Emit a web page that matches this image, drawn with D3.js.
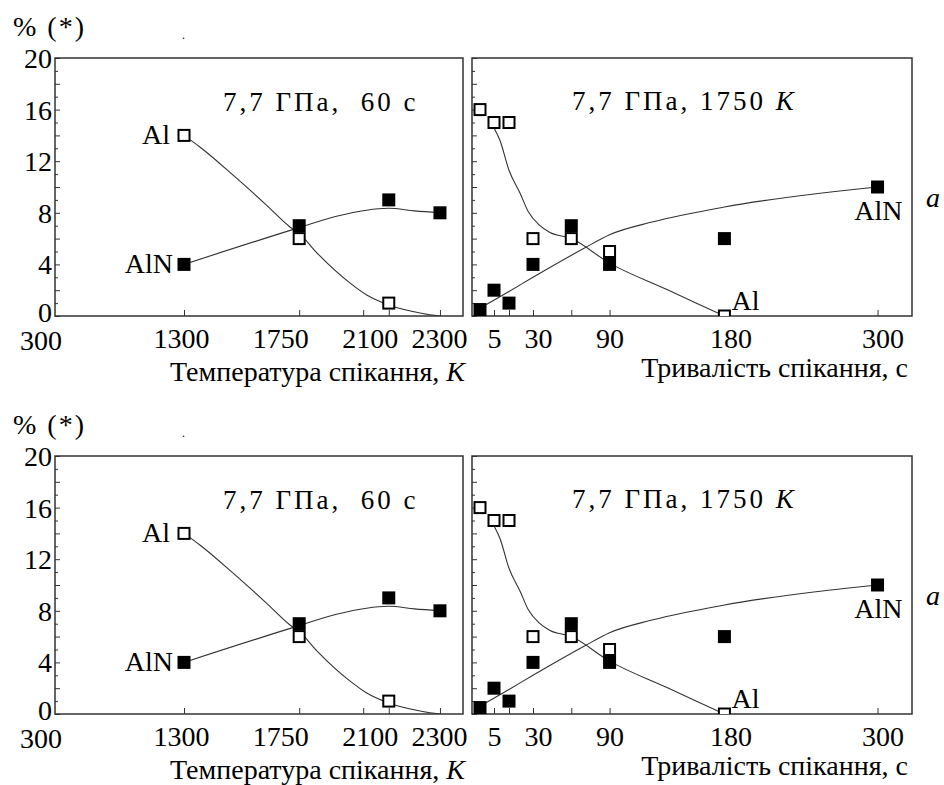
<!DOCTYPE html>
<html><head><meta charset="utf-8">
<script src="https://cdn.jsdelivr.net/npm/d3@7"></script></head>
<body style="margin:0">
<script>
// Left panel: sintering temperature, K
const tempK = [1300, 1750, 2100, 2300];
const tempAl = [14, 6, 1, null];
const tempAlN = [4, 7, 9, 8];
const tempAlFitK = [1300, 1362, 1493, 1622, 1714, 1750, 1819, 1949, 2014, 2100, 2232, 2300];
const tempAlFitV = [14, 13.1, 10.9, 8.6, 6.9, 6.4, 4.9, 2.55, 1.63, 0.85, 0.2, 0];
const tempAlNFitK = [1300, 1750, 1900, 2100, 2200, 2300];
const tempAlNFitV = [4, 6.85, 7.75, 8.35, 8.15, 8.0];
const tempTicks = [1300, 1750, 2000, 2100, 2300];
const tempTickLabels = { 1300: '1300', 1750: '1750', 2100: '2100', 2300: '2300' };

// Right panel: sintering time, s
const timeS = [1, 5, 15, 30, 60, 90, 180, 300];
const timeAl = [16, 15, 15, 6, 6, 5, 0, null];
const timeAlN = [0.5, 2, 1, 4, 7, 4, 6, 10];
const timeAlFitS = [5, 9, 15, 22, 27, 35, 43, 60, 90, 135, 180];
const timeAlFitV = [14.6, 13.6, 11.3, 9.5, 8.1, 7.05, 6.5, 6.0, 4.1, 2.05, 0];
const timeAlNFitS = [1, 15, 30, 70, 90, 124, 180, 300];
const timeAlNFitV = [0.6, 1.9, 3.0, 5.25, 6.3, 7.3, 8.45, 10.0];
const timeTicks = [1, 5, 15, 30, 60, 90, 180, 300];
const timeTickLabels = { 5: '5', 30: '30', 90: '90', 180: '180', 300: '300' };

// y axis
const yTicks = d3.range(0, 21);
const yLabels = [0, 4, 8, 12, 16, 20];

// layout
const W = 944, H = 785;
const plotTop = 58, panelH = 258;
const leftP = { x: 55, w: 408 };
const rightP = { x: 472, w: 440 };
const halfShift = 398;
const fs = 28;
const fam = 'Times New Roman';
const lineColor = '#333';

const svg = d3.select('body').append('svg')
    .attr('width', W)
    .attr('height', H);
svg.append('rect').attr('width', W).attr('height', H).attr('fill', '#fff');

const y = d3.scaleLinear().domain([0, 20]).range([panelH, 0]);
const xTemp = d3.scaleLinear().domain([796, 2390]).range([0, leftP.w]);
const xTime = d3.scaleLinear().domain([0, 1, 5, 15, 30, 327]).range([0, 8, 22, 37, 61, rightP.w]);

const lineGen = x => d3.line().x(d => x(d[0])).y(d => y(d[1])).curve(d3.curveMonotoneX);

// text helper: serif like the original print
function label(g, x, yy, str, size) {
    return g.append('text')
        .attr('x', x).attr('y', yy)
        .attr('font-size', size || fs)
        .style('font-family', `"${fam}"`)
        .text(str);
}

let clipId = 0;

function drawPanel(g, p, x, ticks, tickLabels, labelDx, pts, fits, showYLabels) {
    const pg = g.append('g').attr('transform', `translate(${p.x},${plotTop})`);
    const id = 'clip' + (clipId++);
    pg.append('clipPath').attr('id', id)
        .append('rect').attr('width', p.w).attr('height', panelH);

    // y axis ticks
    const ya = pg.append('g')
        .call(d3.axisLeft(y).tickValues(yTicks).tickSize(-5).tickPadding(3)
            .tickFormat(d => showYLabels && yLabels.includes(d) ? d : ''));
    ya.attr('font-family', null);
    ya.select('.domain').remove();
    ya.selectAll('line').attr('stroke', lineColor)
        .attr('x2', d => d % 2 === 0 ? 5 : 3);
    ya.selectAll('text').attr('font-size', fs)
        .style('font-family', `"${fam}"`)
        .attr('dy', d => d === 0 ? '0.2em' : '0.34em');

    // x axis ticks
    const xa = pg.append('g').attr('transform', `translate(0,${panelH})`)
        .call(d3.axisBottom(x).tickValues(ticks).tickSize(-6).tickPadding(12)
            .tickFormat(d => tickLabels[d] || ''));
    xa.attr('font-family', null);
    xa.select('.domain').remove();
    xa.selectAll('line').attr('stroke', lineColor);
    xa.selectAll('text').attr('font-size', fs)
        .style('font-family', `"${fam}"`)
        .attr('dx', d => labelDx[d] || 0);

    // frame
    pg.append('rect').attr('width', p.w).attr('height', panelH)
        .attr('fill', 'none').attr('stroke', lineColor).attr('stroke-width', 1.5);

    const inner = pg.append('g').attr('clip-path', `url(#${id})`);
    fits.forEach(f => {
        inner.append('path').datum(f)
            .attr('d', lineGen(x))
            .attr('fill', 'none')
            .attr('stroke', lineColor)
            .attr('stroke-width', 1.1);
    });

    // AlN (filled)
    inner.selectAll('.aln').data(pts.aln.filter(d => d[1] != null)).enter()
        .append('rect').attr('class', 'aln')
        .attr('x', d => x(d[0]) - 6.5).attr('y', d => y(d[1]) - 6.5)
        .attr('width', 13).attr('height', 13)
        .attr('fill', '#000');
    // Al (open)
    inner.selectAll('.al').data(pts.al.filter(d => d[1] != null)).enter()
        .append('rect').attr('class', 'al')
        .attr('x', d => x(d[0]) - 5.5).attr('y', d => y(d[1]) - 5.5)
        .attr('width', 11).attr('height', 11)
        .attr('fill', '#fff').attr('stroke', '#000').attr('stroke-width', 2);
    return pg;
}

function drawFigure(dy) {
    const g = svg.append('g').attr('transform', `translate(0,${dy})`);

    label(g, 13, 36, '% (*)').attr('letter-spacing', 2);
    label(g, 182, 39, '.', 12);

    // temperature panel
    const zip = (a, b) => a.map((v, i) => [v, b[i]]);
    const lp = drawPanel(g, leftP, xTemp, tempTicks, tempTickLabels, { 1300: -3, 1750: -19, 2100: -19, 2300: -1 },
        { al: zip(tempK, tempAl), aln: zip(tempK, tempAlN) },
        [zip(tempAlFitK, tempAlFitV), zip(tempAlNFitK, tempAlNFitV)], true);
    label(lp, -14, panelH + 34, '300').attr('text-anchor', 'middle');
    label(lp, 168, 53, '7,7 ГПа,  60 с', 27)
        .attr('letter-spacing', 3).style('white-space', 'pre');
    label(lp, xTemp(1300) - 14, y(14) + 9, 'Al').attr('text-anchor', 'end');
    label(lp, xTemp(1300) - 11, y(4) + 9, 'AlN').attr('text-anchor', 'end');
    const lt = label(lp, leftP.w + 2, panelH + 65, '').attr('text-anchor', 'end');
    lt.append('tspan').text('Температура спікання, ');
    lt.append('tspan').attr('font-style', 'italic').text('K');

    // time panel
    const rp = drawPanel(g, rightP, xTime, timeTicks, timeTickLabels, { 30: 5, 180: 6, 300: 5 },
        { al: zip(timeS, timeAl), aln: zip(timeS, timeAlN) },
        [zip(timeAlFitS, timeAlFitV), zip(timeAlNFitS, timeAlNFitV)], false);
    const rt = label(rp, 100, 52, '', 27).attr('letter-spacing', 3);
    rt.append('tspan').text('7,7 ГПа, 1750 ');
    rt.append('tspan').attr('font-style', 'italic').text('K');
    label(rp, xTime(300) + 25, y(10) + 33, 'AlN').attr('text-anchor', 'end');
    label(rp, xTime(180) + 7, y(0) - 6, 'Al');
    label(rp, rightP.w + 14, y(10) + 20, 'a').attr('font-style', 'italic');
    label(rp, rightP.w - 4, panelH + 61, 'Тривалість спікання, с').attr('text-anchor', 'end');
}

drawFigure(0);
drawFigure(halfShift);
</script>
<style>
  html body svg text, html body svg text tspan {
    font-family: "Liberation Serif", "Times New Roman", serif !important;
  }
</style>
</body>
</html>
